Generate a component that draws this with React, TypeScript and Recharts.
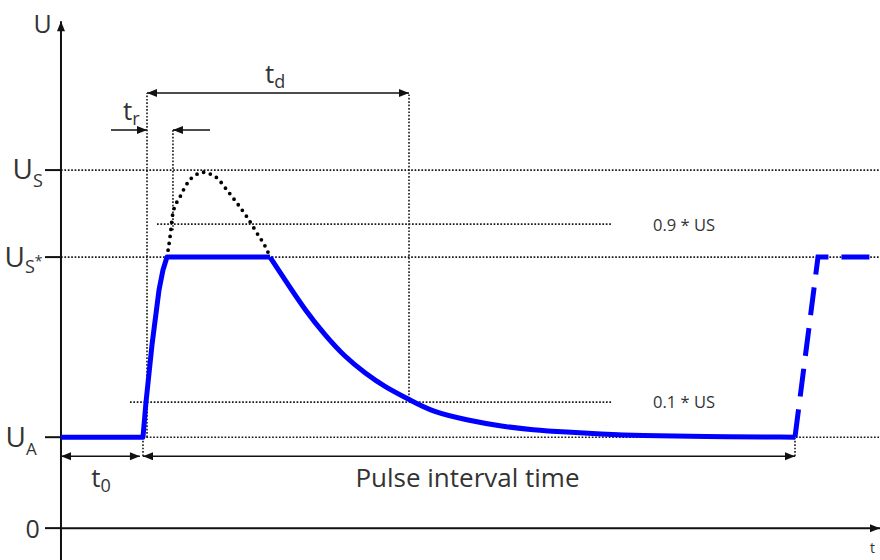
import React from "react";
import { LineChart, Line, XAxis, YAxis, ReferenceLine, ReferenceDot } from "recharts";

// time axis (t) and voltage axis (u)
const T_MIN = -7.26;
const T_MAX = 97.5;
const U_MIN = -0.89;
const U_MAX = 14.75;

// voltage levels
const U_A = 2.54;
const U_S_STAR = 7.57;
const U_S = 10;
const U_90 = 8.49;
const U_10 = 3.52;
const U_AXIS_TOP = 14.16;

// time marks
const T_PULSE = 9.76;
const T_RISE_START = 10.24;
const T_RISE_END = 13.33;
const T_DECAY = 41.43;
const T_NEXT = 87.38;
const T_GUIDE_END = 65.6;

// dimension line heights
const U_TD = 12.15;
const U_TR = 11.12;
const U_INTERVAL = 2.01;

const riseHold = [
  { t: 0, u: 2.54 },
  { t: 9.76, u: 2.54 },
  { t: 10.12, u: 3.52 },
  { t: 10.83, u: 5.11 },
  { t: 11.67, u: 6.65 },
  { t: 12.14, u: 7.21 },
  { t: 12.62, u: 7.57 },
  { t: 24.88, u: 7.57 },
];

const decay = [
  { t: 24.88, u: 7.57 },
  { t: 26.67, u: 6.93 },
  { t: 29.05, u: 6.09 },
  { t: 31.43, u: 5.39 },
  { t: 33.81, u: 4.78 },
  { t: 36.19, u: 4.33 },
  { t: 38.57, u: 3.94 },
  { t: 41.55, u: 3.58 },
  { t: 44.29, u: 3.24 },
  { t: 48.33, u: 3.02 },
  { t: 52.26, u: 2.85 },
  { t: 56.19, u: 2.74 },
  { t: 60.24, u: 2.68 },
  { t: 64.17, u: 2.63 },
  { t: 68.93, u: 2.58 },
  { t: 76.07, u: 2.56 },
  { t: 87.38, u: 2.54 },
];

const nextPulse = [
  { t: 87.38, u: 2.54 },
  { t: 90.12, u: 7.57 },
  { t: 97.5, u: 7.57 },
];

const overshoot = [
  { t: 12.62, u: 7.57 },
  { t: 12.98, u: 8.13 },
  { t: 13.33, u: 8.8 },
  { t: 14.17, u: 9.25 },
  { t: 15.12, u: 9.66 },
  { t: 16.55, u: 9.92 },
  { t: 17.02, u: 9.94 },
  { t: 17.38, u: 9.92 },
  { t: 18.57, u: 9.78 },
  { t: 19.76, u: 9.44 },
  { t: 20.95, u: 9.08 },
  { t: 22.14, u: 8.69 },
  { t: 23.33, u: 8.24 },
  { t: 24.52, u: 7.77 },
  { t: 24.88, u: 7.57 },
];

const levelTicks = [U_S, U_S_STAR, U_A, 0];

const FONT = "'Open Sans', 'DejaVu Sans', sans-serif";
const INK = "#333";
const LINE = "#111";
const BLUE = "#0000ff";

// line with filled arrow heads at either end
const arrowShape = (heads: "start" | "end" | "both") => (p: any) => {
  const { x1, y1, x2, y2 } = p;
  const a = Math.atan2(y2 - y1, x2 - x1);
  const L = 10;
  const W = 4;
  const head = (x: number, y: number, ang: number) => {
    const bx = x - L * Math.cos(ang);
    const by = y - L * Math.sin(ang);
    const pts = [
      [x, y],
      [bx + W * Math.sin(ang), by - W * Math.cos(ang)],
      [bx - W * Math.sin(ang), by + W * Math.cos(ang)],
    ];
    return <polygon points={pts.map((q) => q.join(",")).join(" ")} fill={LINE} />;
  };
  return (
    <g>
      <line x1={x1} y1={y1} x2={x2} y2={y2} stroke={LINE} strokeWidth={p.strokeWidth || 1.5} />
      {heads !== "start" && head(x2, y2, a)}
      {heads !== "end" && head(x1, y1, a + Math.PI)}
    </g>
  );
};

const text = (
  main: string,
  dx: number,
  dy: number,
  size: number,
  sub?: string,
  subSize = 18,
  subDy = 8,
  extra?: string,
  anchor: "start" | "middle" | "end" = "start"
) => (p: any) => (
  <text
    x={p.cx + dx}
    y={p.cy + dy}
    fontSize={size}
    fontFamily={FONT}
    fill={INK}
    textAnchor={anchor}
  >
    {main}
    {sub && (
      <tspan fontSize={subSize} dy={subDy}>
        {sub}
      </tspan>
    )}
    {extra && (
      <tspan fontSize={14} dy={-7}>
        {extra}
      </tspan>
    )}
  </text>
);

const dotted = { stroke: "#1a1a1a", strokeWidth: 1.6, strokeDasharray: "1.7 1.7" };

export default function App() {
  const hLine = (u: number, a: number, b: number, key: string) => (
    <ReferenceLine
      key={key}
      segment={[{ x: a, y: u }, { x: b, y: u }]}
      ifOverflow="visible"
      {...dotted}
    />
  );
  const vLine = (t: number, a: number, b: number, key: string) => (
    <ReferenceLine
      key={key}
      segment={[{ x: t, y: a }, { x: t, y: b }]}
      ifOverflow="visible"
      {...dotted}
    />
  );
  const arrow = (
    p1: [number, number],
    p2: [number, number],
    heads: "start" | "end" | "both",
    key: string,
    width = 1.5
  ) => (
    <ReferenceLine
      key={key}
      segment={[{ x: p1[0], y: p1[1] }, { x: p2[0], y: p2[1] }]}
      ifOverflow="visible"
      strokeWidth={width}
      shape={arrowShape(heads)}
    />
  );
  const note = (t: number, u: number, shape: any, key: string) => (
    <ReferenceDot key={key} x={t} y={u} r={0} ifOverflow="visible" shape={shape} />
  );

  return (
    <div style={{ position: "absolute", left: 0, top: 0, background: "#fff" }}>
      <LineChart width={880} height={560} margin={{ top: 0, right: 0, bottom: 0, left: 0 }}>
        <XAxis type="number" dataKey="t" domain={[T_MIN, T_MAX]} allowDataOverflow hide />
        <YAxis type="number" dataKey="u" domain={[U_MIN, U_MAX]} allowDataOverflow hide />

        {/* guide lines */}
        {hLine(U_S, 0, T_MAX, "hs")}
        {hLine(U_90, 11.43, T_GUIDE_END, "h90")}
        {hLine(U_S_STAR, 0, T_MAX, "hss")}
        {hLine(U_10, 8.21, T_GUIDE_END, "h10")}
        {hLine(U_A, T_PULSE, T_MAX, "ha")}
        {vLine(T_RISE_START, U_A, U_TD, "v1")}
        {vLine(T_RISE_END, 8.32, U_TR, "v2")}
        {vLine(T_DECAY, U_10, U_TD, "v3")}
        {vLine(T_PULSE, U_INTERVAL, U_A, "v4")}
        {vLine(T_NEXT, U_INTERVAL, U_A, "v5")}

        {/* axes */}
        {arrow([0, U_MIN], [0, U_AXIS_TOP], "end", "yaxis", 2)}
        {arrow([0, 0], [T_MAX, 0], "end", "xaxis", 2)}
        {levelTicks.map((u) => (
          <ReferenceLine
            key={`tick-${u}`}
            segment={[{ x: -1.9, y: u }, { x: 0, y: u }]}
            ifOverflow="visible"
            stroke={LINE}
            strokeWidth={2}
          />
        ))}

        {/* dimension arrows */}
        {arrow([T_RISE_START, U_TD], [T_DECAY, U_TD], "both", "td")}
        {arrow([5.95, U_TR], [T_RISE_START, U_TR], "end", "tr1")}
        {arrow([17.74, U_TR], [T_RISE_END, U_TR], "end", "tr2")}
        {arrow([0, U_INTERVAL], [9.4, U_INTERVAL], "both", "t0")}
        {arrow([T_PULSE, U_INTERVAL], [T_NEXT, U_INTERVAL], "both", "pit")}

        <Line
          data={overshoot}
          dataKey="u"
          type="monotone"
          stroke="#000"
          strokeWidth={3.8}
          strokeDasharray="0 7"
          strokeLinecap="round"
          dot={false}
          activeDot={false}
          isAnimationActive={false}
        />
        <Line
          data={riseHold}
          dataKey="u"
          type="linear"
          stroke={BLUE}
          strokeWidth={5}
          strokeLinejoin="round"
          dot={false}
          activeDot={false}
          isAnimationActive={false}
        />
        <Line
          data={decay}
          dataKey="u"
          type="basis"
          stroke={BLUE}
          strokeWidth={5}
          dot={false}
          activeDot={false}
          isAnimationActive={false}
        />
        <Line
          data={nextPulse}
          dataKey="u"
          type="linear"
          stroke={BLUE}
          strokeWidth={5}
          strokeDasharray="28 13"
          dot={false}
          activeDot={false}
          isAnimationActive={false}
        />

        {/* labels */}
        {note(0, U_AXIS_TOP, text("U", -27.5, 12, 25), "lu")}
        {note(0, U_S, text("U", -48.5, 9, 28, "S", 18, 8), "lus")}
        {note(0, U_S_STAR, text("U", -56.5, 10, 28, "S", 18, 6, "*"), "luss")}
        {note(0, U_A, text("U", -55.5, 10, 28, "A", 17, 8), "lua")}
        {note(0, 0, text("0", -35.5, 10, 25), "l0")}
        {note(T_GUIDE_END, U_90, text("0.9 * US", 41, 7, 16.5), "l90")}
        {note(T_GUIDE_END, U_10, text("0.1 * US", 41, 6, 16.5), "l10")}
        {note((T_RISE_START + T_DECAY) / 2, U_TD, text("t", -13, -10, 26, "d", 18, 5), "ltd")}
        {note(T_RISE_START, U_TR, text("t", -24, -10, 26, "r", 18, 5), "ltr")}
        {note(4.8, U_INTERVAL, text("t", -10, 31, 26, "0", 18, 5), "lt0")}
        {note((T_PULSE + T_NEXT) / 2, U_INTERVAL, text("Pulse interval time", -1.5, 31, 26, undefined, 18, 8, undefined, "middle"), "lpit")}
        {note(T_MAX, 0, text("t", -10, 25, 14), "lt")}
      </LineChart>
    </div>
  );
}
